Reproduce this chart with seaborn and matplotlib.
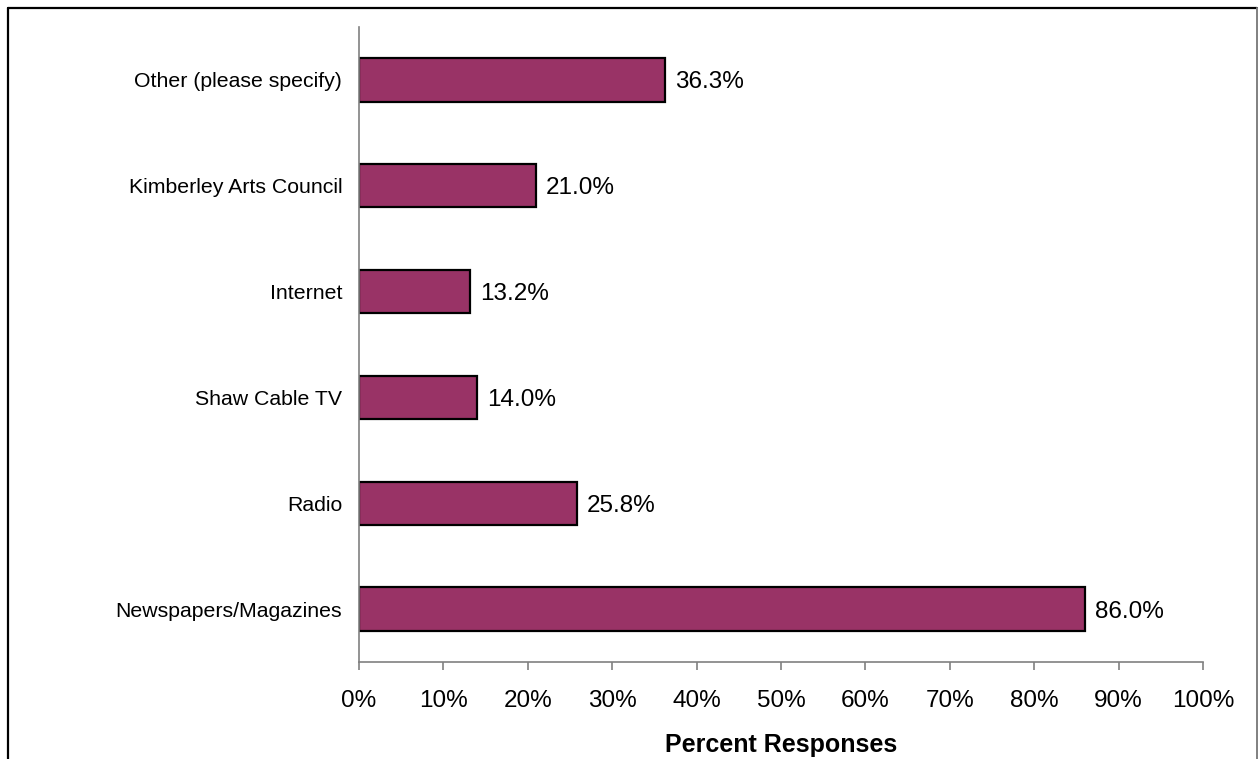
import matplotlib
matplotlib.use("Agg")
import matplotlib.pyplot as plt
import seaborn as sns
import pandas as pd
from matplotlib.lines import Line2D
from matplotlib.ticker import FuncFormatter, MultipleLocator

# Survey responses: where people hear about arts events
categories = [
    "Other (please specify)",
    "Kimberley Arts Council",
    "Internet",
    "Shaw Cable TV",
    "Radio",
    "Newspapers/Magazines",
]
percents = [36.3, 21.0, 13.2, 14.0, 25.8, 86.0]
x_ticks = list(range(0, 101, 10))

sns.set_theme(style="white")
plt.rcParams["font.family"] = ["Liberation Sans", "DejaVu Sans"]

df = pd.DataFrame({"source": categories, "percent": percents})

fig = plt.figure(figsize=(12.59, 7.59), dpi=100)
ax = fig.add_axes([359 / 1259, 1 - 662 / 759, (1203 - 359) / 1259, (662 - 27) / 759])

sns.barplot(
    data=df, x="percent", y="source", order=categories, orient="h",
    color="#993366", saturation=1, width=0.41,
    edgecolor="black", linewidth=1.6, ax=ax,
)

ax.set_xlim(0, 100)
ax.set_ylim(len(categories) - 0.5, -0.5)
ax.set_xticks(x_ticks)
ax.xaxis.set_major_formatter(FuncFormatter(lambda v, _: f"{v:.0f}%"))

for y, v in enumerate(percents):
    ax.annotate(f"{v:.1f}%", xy=(v, y), xytext=(7, 0), textcoords="offset points",
                va="center_baseline", ha="left", fontsize=17.5, color="black")

for side in ("top", "right"):
    ax.spines[side].set_visible(False)
for side in ("left", "bottom"):
    ax.spines[side].set_color("#808080")
    ax.spines[side].set_linewidth(1.2)

ax.tick_params(axis="x", which="major", bottom=True, length=6, width=1.2,
               color="#808080", direction="out", labelsize=17.5, pad=14,
               labelcolor="black")
ax.tick_params(axis="y", left=False, length=0, labelsize=15.3, pad=12,
               labelcolor="black")

ax.set_ylabel("")
ax.set_xlabel("Percent Responses", fontsize=18, fontweight="bold", labelpad=15,
              color="black")

# Outer frame around the chart area (open at the bottom)
fig.add_artist(Line2D([8 / 1259, 8 / 1259], [0, 1 - 7.5 / 759], transform=fig.transFigure,
                      color="black", linewidth=1.6))
fig.add_artist(Line2D([8 / 1259, 1257 / 1259], [1 - 7.5 / 759, 1 - 7.5 / 759],
                      transform=fig.transFigure, color="black", linewidth=1.6))
fig.add_artist(Line2D([1257 / 1259, 1257 / 1259], [0, 1 - 7.5 / 759], transform=fig.transFigure,
                      color="#808080", linewidth=1.4))

fig.savefig("out.png", dpi=100, facecolor="white")
